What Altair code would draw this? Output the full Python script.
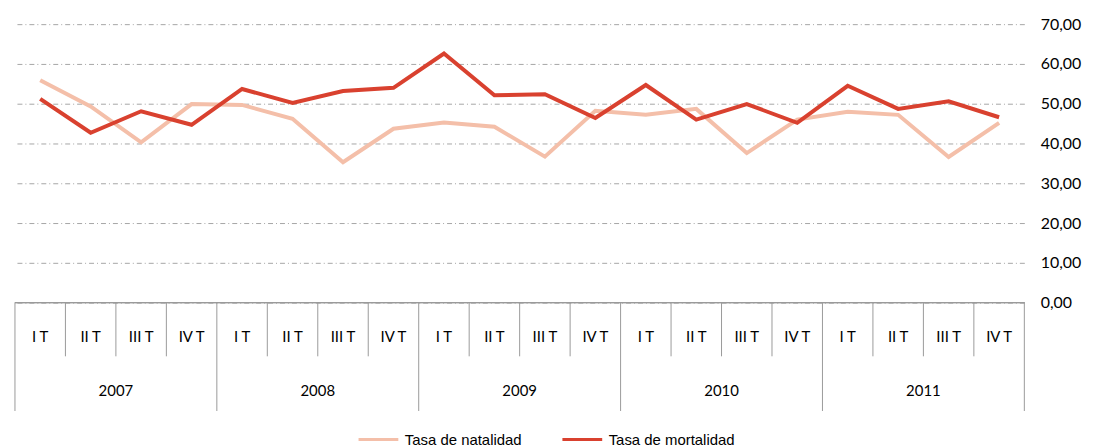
import altair as alt
import pandas as pd

quarters = ["I T", "II T", "III T", "IV T"]
years = ["2007", "2008", "2009", "2010", "2011"]
series_names = ["Tasa de natalidad", "Tasa de mortalidad"]
natalidad = [55.9, 49.3, 40.3, 49.9, 49.7, 46.2, 35.3, 43.7, 45.3, 44.2,
             36.7, 48.2, 47.2, 48.7, 37.6, 46.0, 48.0, 47.2, 36.6, 45.2]
mortalidad = [51.2, 42.7, 48.1, 44.7, 53.7, 50.2, 53.2, 54.0, 62.6, 52.1,
              52.4, 46.4, 54.7, 46.0, 49.9, 45.2, 54.5, 48.7, 50.6, 46.6]
y_ticks = [0, 10, 20, 30, 40, 50, 60, 70]
colors = ["#f4bfa9", "#d9412f"]

W = 1015
H = 280
n = len(years) * len(quarters)

rows = []
for i in range(n):
    rows.append({"pos": i + 0.5, "quarter": quarters[i % 4], "year": years[i // 4],
                 "serie": series_names[0], "valor": natalidad[i]})
for i in range(n):
    rows.append({"pos": i + 0.5, "quarter": quarters[i % 4], "year": years[i // 4],
                 "serie": series_names[1], "valor": mortalidad[i]})
df = pd.DataFrame(rows)

qdf = pd.DataFrame({"pos": [i + 0.5 for i in range(n)],
                    "quarter": [quarters[i % 4] for i in range(n)]})
ydf = pd.DataFrame({"pos": [4 * j + 2 for j in range(len(years))], "year": years})
qb = pd.DataFrame({"b": [i for i in range(n + 1) if i % 4 != 0]})
yb = pd.DataFrame({"b": [i for i in range(n + 1) if i % 4 == 0]})

xscale = alt.Scale(domain=[0, n], nice=False, zero=False)
xenc = alt.X("pos:Q", scale=xscale, axis=None)

color = alt.Color(
    "serie:N",
    scale=alt.Scale(domain=series_names, range=colors),
    legend=alt.Legend(
        title=None, orient="none", direction="horizontal",
        legendX=344, legendY=396,
        symbolType="stroke", symbolSize=1600, symbolStrokeWidth=3,
        labelFont="Liberation Sans", labelFontSize=15, labelColor="#000000",
        labelOffset=5, columnPadding=34,
    ),
)

yenc = alt.Y(
    "valor:Q",
    scale=alt.Scale(domain=[0, 70], nice=False),
    axis=alt.Axis(
        orient="right", values=y_ticks, title=None,
        labelExpr="replace(format(datum.value, '.2f'), '.', ',')",
        domain=False, ticks=False, labelPadding=16,
        labelFont="Lato", labelFontSize=16, labelColor="#000000",
        grid=True, gridColor="#a6a6a6", gridDash=[5, 3, 1, 3], gridWidth=1,
    ),
)

base = alt.Chart(df)
nat = base.transform_filter(alt.datum.serie == series_names[0]).mark_line(
    strokeWidth=4).encode(x=xenc, y=yenc, color=color)
mort = base.transform_filter(alt.datum.serie == series_names[1]).mark_line(
    strokeWidth=4).encode(x=xenc, y=yenc, color=color)

top_rule = alt.Chart(ydf).mark_rule(color="#9a9a9a", strokeWidth=1).encode(
    x=alt.value(0), x2=alt.value(W), y=alt.value(H))
qrules = alt.Chart(qb).mark_rule(color="#9a9a9a", strokeWidth=1).encode(
    x=alt.X("b:Q", scale=xscale, axis=None), y=alt.value(H), y2=alt.value(H + 54))
yrules = alt.Chart(yb).mark_rule(color="#9a9a9a", strokeWidth=1).encode(
    x=alt.X("b:Q", scale=xscale, axis=None), y=alt.value(H), y2=alt.value(H + 109))
qtext = alt.Chart(qdf).mark_text(font="Lato", fontSize=15, color="#000000",
                                  baseline="middle").encode(
    x=alt.X("pos:Q", scale=xscale, axis=None), y=alt.value(H + 35), text="quarter:N")
ytext = alt.Chart(ydf).mark_text(font="Lato", fontSize=15, color="#000000",
                                  baseline="middle").encode(
    x=alt.X("pos:Q", scale=xscale, axis=None), y=alt.value(H + 89), text="year:N")

chart = alt.layer(nat, mort, top_rule, qrules, yrules, qtext, ytext).properties(
    width=W, height=H, background="#ffffff",
    padding={"left": 6, "top": 7, "right": 5, "bottom": 5},
).configure_view(stroke=None)

chart.save("out.html", embed_options={"renderer": "svg", "actions": False})
